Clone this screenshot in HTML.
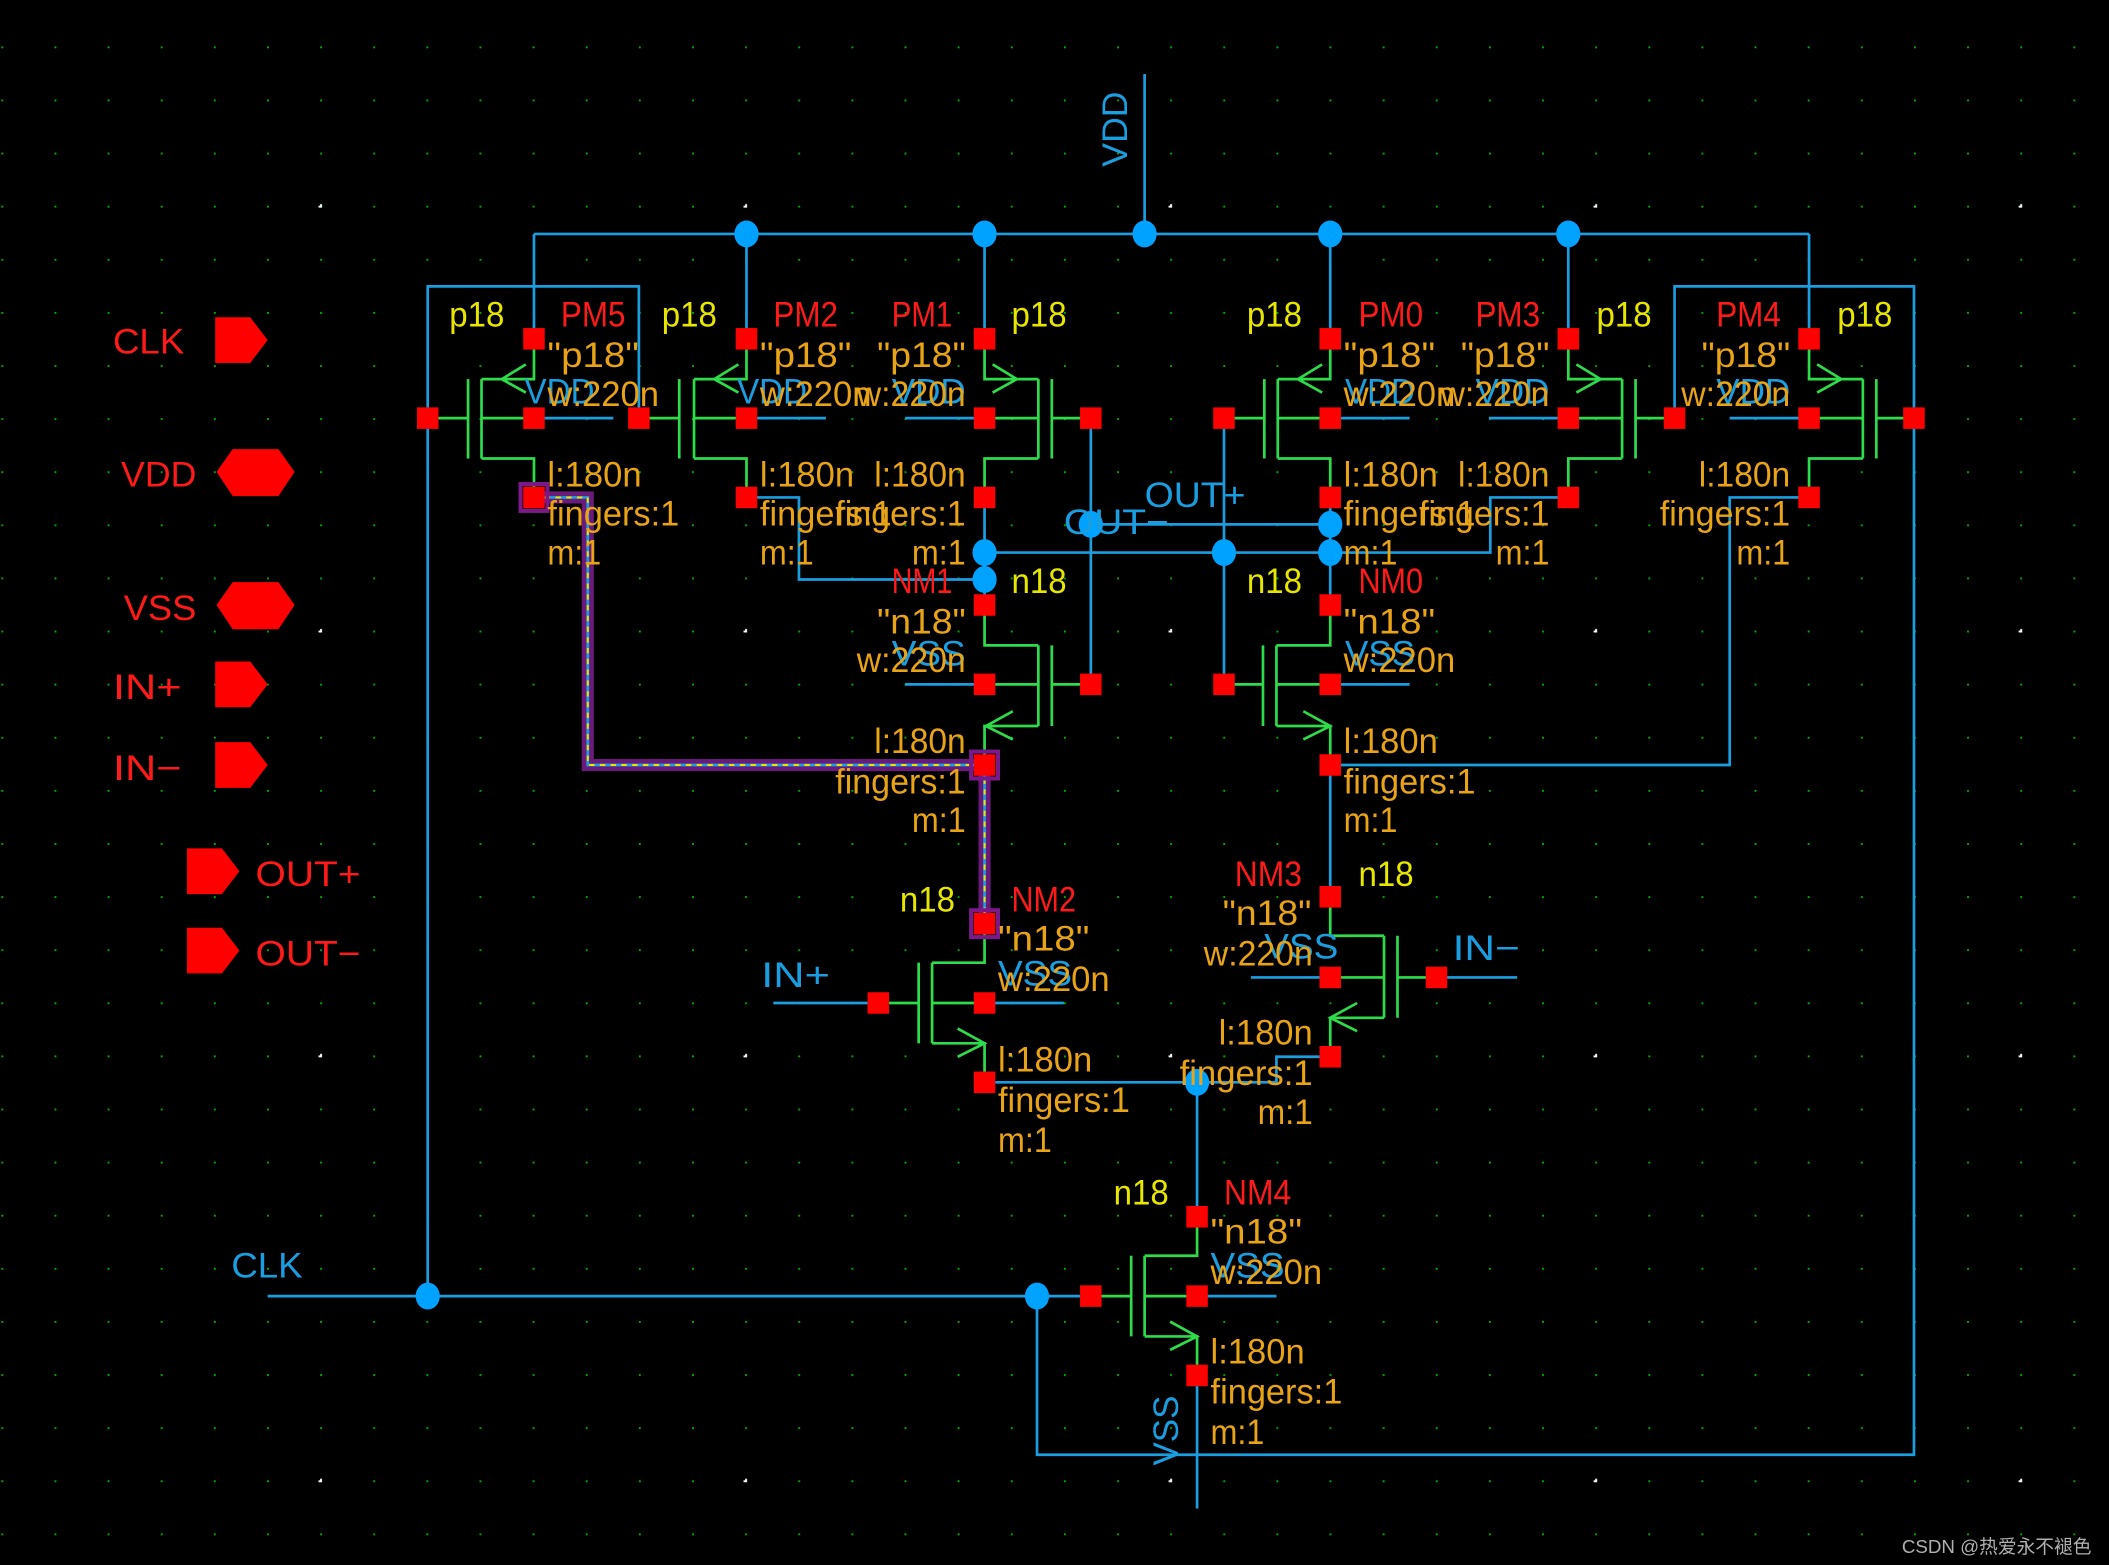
<!DOCTYPE html>
<html><head><meta charset="utf-8"><style>
html,body{margin:0;padding:0;background:#000;width:2109px;height:1565px;overflow:hidden}
svg{display:block}
text{font-family:"Liberation Sans","Noto Sans CJK SC",sans-serif;font-size:26px}
.y{fill:#e6e600}.o{fill:#e8a317}.r{fill:#ff1a1a}.b{fill:#1a9ee0}
.w{stroke:#1a9ee0;stroke-width:2;fill:none}
.g{stroke:#2edc4a;stroke-width:2;fill:none}
.p{fill:#ff0000}
.d{fill:#00a2ff}
</style></head><body>
<svg width="2109" height="1565" viewBox="0 0 1568 1164" preserveAspectRatio="none">
<defs>
<pattern id="gd" x="1" y="34.5" width="39.5" height="39.5" patternUnits="userSpaceOnUse"><rect x="0" y="0" width="1.4" height="1.4" fill="#00b000"/></pattern>
<pattern id="wd" x="238" y="153" width="316" height="316" patternUnits="userSpaceOnUse"><rect x="-1.2" y="-1.2" width="2.6" height="2.6" fill="#fff"/><rect x="314.8" y="-1.2" width="2.6" height="2.6" fill="#fff"/><rect x="-1.2" y="314.8" width="2.6" height="2.6" fill="#fff"/></pattern>
</defs>
<rect width="1568" height="1164" fill="#000"/>
<rect width="1568" height="1164" fill="url(#gd)"/>
<rect width="1568" height="1164" fill="url(#wd)"/>

<!-- highlighted wire -->
<path d="M397,370 H437 V569 H732 V687" stroke="#6a1a7a" stroke-width="9" fill="none"/>
<path d="M397,370 H437 V569 H732 V687" stroke="#1a9ee0" stroke-width="2" fill="none"/>
<path d="M397,370 H437 V569 H732 V687" stroke="#e6e600" stroke-width="1.5" stroke-dasharray="4 4" fill="none"/>

<!-- blue wires -->
<g class="w">
<path d="M397,174 H1345"/>
<path d="M397,174 V252 M555,174 V252 M732,174 V252 M989,174 V252 M1166,174 V252 M1345,174 V252 M851,55 V174"/>
<path d="M475,311 V213 H318 V964"/>
<path d="M1245,311 V213 H1423 V1082 H771 V964"/>
<path d="M555,370 H594 V431 H732"/>
<path d="M732,370 V450"/>
<path d="M811,311 V509 M910,311 V509"/>
<path d="M732,411 H1108 V370 H1166"/>
<path d="M811,390 H989"/>
<path d="M989,370 V450"/>
<path d="M1345,370 H1286 V569 H989"/>
<path d="M989,569 V667"/>
<path d="M653,746 H575 M1068,727 H1128"/>
<path d="M732,805 H890 M989,786 H949 V805 H890 M890,805 V905"/>
<path d="M199,964 H811"/>
<path d="M890,1023 V1122"/>
<path d="M397,311 H456 M555,311 H614 M673,311 H732 M989,311 H1048 M1107,311 H1166 M1286,311 H1345"/>
<path d="M673,509 H732 M989,509 H1048 M732,746 H791 M930,727 H989 M890,964 H949"/>
</g>

<!-- transistors (green) -->
<g class="g">
<!-- PM5 -->
<path d="M318,311 H348 M348,282 V341 M358,282 V341 M358,282 H397 V252 M358,311 H397 M358,341 H397 V370 M391,271 L373,282 L391,292"/>
<!-- PM2 -->
<path d="M475,311 H505 M505,282 V341 M516,282 V341 M516,282 H555 V252 M516,311 H555 M516,341 H555 V370 M549,271 L531,282 L549,292"/>
<!-- PM1 -->
<path d="M811,311 H782 M782,282 V341 M772,282 V341 M772,282 H732 V252 M772,311 H732 M772,341 H732 V370 M738,271 L756,282 L738,292"/>
<!-- PM0 -->
<path d="M910,311 H940 M940,282 V341 M950,282 V341 M950,282 H989 V252 M950,311 H989 M950,341 H989 V370 M983,271 L965,282 L983,292"/>
<!-- PM3 -->
<path d="M1245,311 H1216 M1216,282 V341 M1206,282 V341 M1206,282 H1166 V252 M1206,311 H1166 M1206,341 H1166 V370 M1172,271 L1190,282 L1172,292"/>
<!-- PM4 -->
<path d="M1423,311 H1395 M1395,282 V341 M1385,282 V341 M1385,282 H1345 V252 M1385,311 H1345 M1385,341 H1345 V370 M1351,271 L1369,282 L1351,292"/>
<!-- NM1 -->
<path d="M811,509 H782 M782,480 V540 M772,480 V540 M732,450 V480 H772 M772,509 H732 M772,540 H732 V569 M753,529 L733,540 L753,550"/>
<!-- NM0 -->
<path d="M910,509 H939 M939,480 V540 M949,480 V540 M989,450 V480 H949 M949,509 H989 M949,540 H989 V569 M969,529 L989,540 L969,550"/>
<!-- NM2 -->
<path d="M653,746 H683 M683,716 V776 M693,716 V776 M732,687 V716 H693 M693,746 H732 M693,776 H732 V805 M712,765 L732,776 L712,786"/>
<!-- NM3 -->
<path d="M1068,727 H1039 M1039,696 V757 M1029,696 V757 M989,667 V696 H1029 M1029,727 H989 M1029,757 H989 V786 M1009,746 L989,757 L1009,767"/>
<!-- NM4 -->
<path d="M811,964 H841 M841,934 V994 M851,934 V994 M890,905 V934 H851 M851,964 H890 M851,994 H890 V1023 M870,983 L890,994 L870,1004"/>
</g>

<!-- pins -->
<g class="p">
<rect x="389" y="244" width="16" height="16"/><rect x="389" y="303" width="16" height="16"/><rect x="389" y="362" width="16" height="16"/><rect x="310" y="303" width="16" height="16"/>
<rect x="547" y="244" width="16" height="16"/><rect x="547" y="303" width="16" height="16"/><rect x="547" y="362" width="16" height="16"/><rect x="467" y="303" width="16" height="16"/>
<rect x="724" y="244" width="16" height="16"/><rect x="724" y="303" width="16" height="16"/><rect x="724" y="362" width="16" height="16"/><rect x="803" y="303" width="16" height="16"/>
<rect x="981" y="244" width="16" height="16"/><rect x="981" y="303" width="16" height="16"/><rect x="981" y="362" width="16" height="16"/><rect x="902" y="303" width="16" height="16"/>
<rect x="1158" y="244" width="16" height="16"/><rect x="1158" y="303" width="16" height="16"/><rect x="1158" y="362" width="16" height="16"/><rect x="1237" y="303" width="16" height="16"/>
<rect x="1337" y="244" width="16" height="16"/><rect x="1337" y="303" width="16" height="16"/><rect x="1337" y="362" width="16" height="16"/><rect x="1415" y="303" width="16" height="16"/>
<rect x="724" y="442" width="16" height="16"/><rect x="724" y="501" width="16" height="16"/><rect x="724" y="561" width="16" height="16"/><rect x="803" y="501" width="16" height="16"/>
<rect x="981" y="442" width="16" height="16"/><rect x="981" y="501" width="16" height="16"/><rect x="981" y="561" width="16" height="16"/><rect x="902" y="501" width="16" height="16"/>
<rect x="724" y="679" width="16" height="16"/><rect x="724" y="738" width="16" height="16"/><rect x="724" y="797" width="16" height="16"/><rect x="645" y="738" width="16" height="16"/>
<rect x="981" y="659" width="16" height="16"/><rect x="981" y="719" width="16" height="16"/><rect x="981" y="778" width="16" height="16"/><rect x="1060" y="719" width="16" height="16"/>
<rect x="882" y="897" width="16" height="16"/><rect x="882" y="956" width="16" height="16"/><rect x="882" y="1015" width="16" height="16"/><rect x="803" y="956" width="16" height="16"/>
</g>
<g fill="none" stroke="#7a1a8a" stroke-width="3">
<rect x="387" y="360" width="20" height="20"/><rect x="722" y="559" width="20" height="20"/><rect x="722" y="677" width="20" height="20"/>
</g>

<!-- dots -->
<g class="d">
<ellipse cx="555" cy="174" rx="9" ry="10"/><ellipse cx="732" cy="174" rx="9" ry="10"/><ellipse cx="851" cy="174" rx="9" ry="10"/><ellipse cx="989" cy="174" rx="9" ry="10"/><ellipse cx="1166" cy="174" rx="9" ry="10"/>
<ellipse cx="732" cy="411" rx="9" ry="10"/><ellipse cx="732" cy="431" rx="9" ry="10"/><ellipse cx="811" cy="390" rx="9" ry="10"/><ellipse cx="910" cy="411" rx="9" ry="10"/><ellipse cx="989" cy="390" rx="9" ry="10"/><ellipse cx="989" cy="411" rx="9" ry="10"/>
<ellipse cx="890" cy="805" rx="9" ry="10"/><ellipse cx="318" cy="964" rx="9" ry="10"/><ellipse cx="771" cy="964" rx="9" ry="10"/>
</g>

<!-- ports -->
<g fill="#ff0000">
<polygon points="160,236 186,236 199,253 186,270 160,270"/>
<polygon points="161,351 173,334 207,334 219,351 207,369 173,369"/>
<polygon points="161,450 173,433 207,433 219,450 207,468 173,468"/>
<polygon points="160,492 186,492 199,509 186,526 160,526"/>
<polygon points="160,552 186,552 199,569 186,586 160,586"/>
<polygon points="139,631 165,631 178,648 165,665 139,665"/>
<polygon points="139,690 165,690 178,707 165,724 139,724"/>
</g>
<g class="r">
<text x="84" y="263" textLength="53" lengthAdjust="spacingAndGlyphs">CLK</text>
<text x="90" y="362" textLength="56" lengthAdjust="spacingAndGlyphs">VDD</text>
<text x="92" y="461" textLength="54" lengthAdjust="spacingAndGlyphs">VSS</text>
<text x="84" y="520" textLength="51" lengthAdjust="spacingAndGlyphs">IN+</text>
<text x="84" y="580" textLength="51" lengthAdjust="spacingAndGlyphs">IN−</text>
<text x="190" y="659" textLength="78" lengthAdjust="spacingAndGlyphs">OUT+</text>
<text x="190" y="718" textLength="78" lengthAdjust="spacingAndGlyphs">OUT−</text>
</g>

<!-- net labels -->
<g class="b">
<text transform="translate(838,124) rotate(-90)" textLength="56" lengthAdjust="spacingAndGlyphs">VDD</text>
<text transform="translate(876,1090) rotate(-90)" textLength="52" lengthAdjust="spacingAndGlyphs">VSS</text>
<text x="851" y="377" textLength="75" lengthAdjust="spacingAndGlyphs">OUT+</text>
<text x="791" y="397" textLength="78" lengthAdjust="spacingAndGlyphs">OUT−</text>
<text x="566" y="734" textLength="51" lengthAdjust="spacingAndGlyphs">IN+</text>
<text x="1080" y="714" textLength="50" lengthAdjust="spacingAndGlyphs">IN−</text>
<text x="172" y="950" textLength="53" lengthAdjust="spacingAndGlyphs">CLK</text>
<text x="390" y="300" textLength="52" lengthAdjust="spacingAndGlyphs">VDD</text>
<text x="548" y="300" textLength="52" lengthAdjust="spacingAndGlyphs">VDD</text>
<text x="663" y="300" textLength="55" lengthAdjust="spacingAndGlyphs">VDD</text>
<text x="1000" y="300" textLength="52" lengthAdjust="spacingAndGlyphs">VDD</text>
<text x="1097" y="300" textLength="55" lengthAdjust="spacingAndGlyphs">VDD</text>
<text x="1276" y="300" textLength="55" lengthAdjust="spacingAndGlyphs">VDD</text>
<text x="663" y="495" textLength="55" lengthAdjust="spacingAndGlyphs">VSS</text>
<text x="1000" y="495" textLength="52" lengthAdjust="spacingAndGlyphs">VSS</text>
<text x="742" y="733" textLength="55" lengthAdjust="spacingAndGlyphs">VSS</text>
<text x="940" y="713" textLength="55" lengthAdjust="spacingAndGlyphs">VSS</text>
<text x="900" y="950" textLength="55" lengthAdjust="spacingAndGlyphs">VSS</text>
</g>

<!-- device names -->
<g class="r">
<text x="417" y="243" textLength="48" lengthAdjust="spacingAndGlyphs">PM5</text>
<text x="575" y="243" textLength="48" lengthAdjust="spacingAndGlyphs">PM2</text>
<text x="663" y="243" textLength="45" lengthAdjust="spacingAndGlyphs">PM1</text>
<text x="1010" y="243" textLength="48" lengthAdjust="spacingAndGlyphs">PM0</text>
<text x="1097" y="243" textLength="48" lengthAdjust="spacingAndGlyphs">PM3</text>
<text x="1276" y="243" textLength="48" lengthAdjust="spacingAndGlyphs">PM4</text>
<text x="663" y="441" textLength="45" lengthAdjust="spacingAndGlyphs">NM1</text>
<text x="1010" y="441" textLength="48" lengthAdjust="spacingAndGlyphs">NM0</text>
<text x="752" y="678" textLength="48" lengthAdjust="spacingAndGlyphs">NM2</text>
<text x="918" y="659" textLength="50" lengthAdjust="spacingAndGlyphs">NM3</text>
<text x="910" y="896" textLength="50" lengthAdjust="spacingAndGlyphs">NM4</text>
</g>
<g class="y">
<text x="334" y="243" textLength="41" lengthAdjust="spacingAndGlyphs">p18</text>
<text x="492" y="243" textLength="41" lengthAdjust="spacingAndGlyphs">p18</text>
<text x="752" y="243" textLength="41" lengthAdjust="spacingAndGlyphs">p18</text>
<text x="927" y="243" textLength="41" lengthAdjust="spacingAndGlyphs">p18</text>
<text x="1187" y="243" textLength="41" lengthAdjust="spacingAndGlyphs">p18</text>
<text x="1366" y="243" textLength="41" lengthAdjust="spacingAndGlyphs">p18</text>
<text x="752" y="441" textLength="41" lengthAdjust="spacingAndGlyphs">n18</text>
<text x="927" y="441" textLength="41" lengthAdjust="spacingAndGlyphs">n18</text>
<text x="669" y="678" textLength="41" lengthAdjust="spacingAndGlyphs">n18</text>
<text x="1010" y="659" textLength="41" lengthAdjust="spacingAndGlyphs">n18</text>
<text x="828" y="896" textLength="41" lengthAdjust="spacingAndGlyphs">n18</text>
</g>

<!-- parameters -->
<g class="o">
<!-- PM5 -->
<text x="407" y="273" textLength="68" lengthAdjust="spacingAndGlyphs">"p18"</text>
<text x="407" y="302" textLength="83" lengthAdjust="spacingAndGlyphs">w:220n</text>
<text x="407" y="362" textLength="70" lengthAdjust="spacingAndGlyphs">l:180n</text>
<text x="407" y="391" textLength="98" lengthAdjust="spacingAndGlyphs">fingers:1</text>
<text x="407" y="420" textLength="40" lengthAdjust="spacingAndGlyphs">m:1</text>
<!-- PM2 -->
<text x="565" y="273" textLength="68" lengthAdjust="spacingAndGlyphs">"p18"</text>
<text x="565" y="302" textLength="83" lengthAdjust="spacingAndGlyphs">w:220n</text>
<text x="565" y="362" textLength="70" lengthAdjust="spacingAndGlyphs">l:180n</text>
<text x="565" y="391" textLength="98" lengthAdjust="spacingAndGlyphs">fingers:1</text>
<text x="565" y="420" textLength="40" lengthAdjust="spacingAndGlyphs">m:1</text>
<!-- PM1 -->
<text x="652" y="273" textLength="66" lengthAdjust="spacingAndGlyphs">"p18"</text>
<text x="637" y="302" textLength="81" lengthAdjust="spacingAndGlyphs">w:220n</text>
<text x="650" y="362" textLength="68" lengthAdjust="spacingAndGlyphs">l:180n</text>
<text x="621" y="391" textLength="97" lengthAdjust="spacingAndGlyphs">fingers:1</text>
<text x="678" y="420" textLength="40" lengthAdjust="spacingAndGlyphs">m:1</text>
<!-- PM0 -->
<text x="999" y="273" textLength="68" lengthAdjust="spacingAndGlyphs">"p18"</text>
<text x="999" y="302" textLength="83" lengthAdjust="spacingAndGlyphs">w:220n</text>
<text x="999" y="362" textLength="70" lengthAdjust="spacingAndGlyphs">l:180n</text>
<text x="999" y="391" textLength="98" lengthAdjust="spacingAndGlyphs">fingers:1</text>
<text x="999" y="420" textLength="40" lengthAdjust="spacingAndGlyphs">m:1</text>
<!-- PM3 -->
<text x="1086" y="273" textLength="66" lengthAdjust="spacingAndGlyphs">"p18"</text>
<text x="1071" y="302" textLength="81" lengthAdjust="spacingAndGlyphs">w:220n</text>
<text x="1084" y="362" textLength="68" lengthAdjust="spacingAndGlyphs">l:180n</text>
<text x="1055" y="391" textLength="97" lengthAdjust="spacingAndGlyphs">fingers:1</text>
<text x="1112" y="420" textLength="40" lengthAdjust="spacingAndGlyphs">m:1</text>
<!-- PM4 -->
<text x="1265" y="273" textLength="66" lengthAdjust="spacingAndGlyphs">"p18"</text>
<text x="1250" y="302" textLength="81" lengthAdjust="spacingAndGlyphs">w:220n</text>
<text x="1263" y="362" textLength="68" lengthAdjust="spacingAndGlyphs">l:180n</text>
<text x="1234" y="391" textLength="97" lengthAdjust="spacingAndGlyphs">fingers:1</text>
<text x="1291" y="420" textLength="40" lengthAdjust="spacingAndGlyphs">m:1</text>
<!-- NM1 -->
<text x="652" y="471" textLength="66" lengthAdjust="spacingAndGlyphs">"n18"</text>
<text x="637" y="500" textLength="81" lengthAdjust="spacingAndGlyphs">w:220n</text>
<text x="650" y="560" textLength="68" lengthAdjust="spacingAndGlyphs">l:180n</text>
<text x="621" y="590" textLength="97" lengthAdjust="spacingAndGlyphs">fingers:1</text>
<text x="678" y="619" textLength="40" lengthAdjust="spacingAndGlyphs">m:1</text>
<!-- NM0 -->
<text x="999" y="471" textLength="68" lengthAdjust="spacingAndGlyphs">"n18"</text>
<text x="999" y="500" textLength="83" lengthAdjust="spacingAndGlyphs">w:220n</text>
<text x="999" y="560" textLength="70" lengthAdjust="spacingAndGlyphs">l:180n</text>
<text x="999" y="590" textLength="98" lengthAdjust="spacingAndGlyphs">fingers:1</text>
<text x="999" y="619" textLength="40" lengthAdjust="spacingAndGlyphs">m:1</text>
<!-- NM2 -->
<text x="742" y="707" textLength="68" lengthAdjust="spacingAndGlyphs">"n18"</text>
<text x="742" y="737" textLength="83" lengthAdjust="spacingAndGlyphs">w:220n</text>
<text x="742" y="797" textLength="70" lengthAdjust="spacingAndGlyphs">l:180n</text>
<text x="742" y="827" textLength="98" lengthAdjust="spacingAndGlyphs">fingers:1</text>
<text x="742" y="857" textLength="40" lengthAdjust="spacingAndGlyphs">m:1</text>
<!-- NM3 -->
<text x="909" y="688" textLength="66" lengthAdjust="spacingAndGlyphs">"n18"</text>
<text x="895" y="718" textLength="81" lengthAdjust="spacingAndGlyphs">w:220n</text>
<text x="906" y="777" textLength="70" lengthAdjust="spacingAndGlyphs">l:180n</text>
<text x="877" y="807" textLength="99" lengthAdjust="spacingAndGlyphs">fingers:1</text>
<text x="935" y="836" textLength="41" lengthAdjust="spacingAndGlyphs">m:1</text>
<!-- NM4 -->
<text x="900" y="925" textLength="68" lengthAdjust="spacingAndGlyphs">"n18"</text>
<text x="900" y="955" textLength="83" lengthAdjust="spacingAndGlyphs">w:220n</text>
<text x="900" y="1014" textLength="70" lengthAdjust="spacingAndGlyphs">l:180n</text>
<text x="900" y="1044" textLength="98" lengthAdjust="spacingAndGlyphs">fingers:1</text>
<text x="900" y="1074" textLength="40" lengthAdjust="spacingAndGlyphs">m:1</text>
</g>

<text x="1414" y="1155" fill="#b0b0b0" style="font-size:14px" textLength="141" lengthAdjust="spacingAndGlyphs">CSDN @热爱永不褪色</text>
</svg>
</body></html>
